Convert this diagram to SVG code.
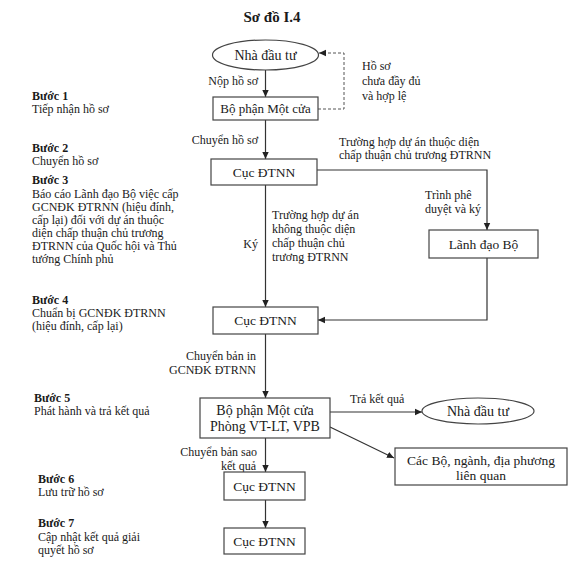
<svg xmlns="http://www.w3.org/2000/svg" width="575" height="583" viewBox="0 0 575 583">
<defs>
<marker id="ah" markerWidth="8" markerHeight="8" refX="7" refY="4" orient="auto" markerUnits="userSpaceOnUse">
<path d="M0,0.8 L7,4 L0,7.2 Z" fill="#222"/>
</marker>
<style>
text{font-family:"Liberation Serif","Times New Roman",serif;font-size:12px;fill:#1a1a1a}
.t{font-size:15px;font-weight:bold}
.b{font-weight:bold}
.m{text-anchor:middle}
.e{text-anchor:end}
.n{font-size:13.5px}
.nl{font-size:14px}
.box{fill:#fff;stroke:#444;stroke-width:1.2}
.ln{fill:none;stroke:#333;stroke-width:1.2}
.ds{fill:none;stroke:#555;stroke-width:1;stroke-dasharray:3 2}
</style>
</defs>
<rect width="575" height="583" fill="#fff"/>
<text class="t m" x="272" y="22">Sơ đồ I.4</text>

<g id="steps">
<text class="b" x="32" y="100">Bước 1</text>
<text x="32" y="113">Tiếp nhận hồ sơ</text>
<text class="b" x="32" y="152">Bước 2</text>
<text x="32" y="165">Chuyển hồ sơ</text>
<text class="b" x="32" y="184">Bước 3</text>
<text x="32" y="198">Báo cáo Lãnh đạo Bộ việc cấp</text>
<text x="32" y="211">GCNĐK ĐTRNN (hiệu đính,</text>
<text x="32" y="224">cấp lại) đối với dự án thuộc</text>
<text x="32" y="237">diện chấp thuận chủ trương</text>
<text x="32" y="250">ĐTRNN của Quốc hội và Thủ</text>
<text x="32" y="263">tướng Chính phủ</text>
<text class="b" x="32" y="304">Bước 4</text>
<text x="32" y="317">Chuẩn bị GCNĐK ĐTRNN</text>
<text x="32" y="330">(hiệu đính, cấp lại)</text>
<text class="b" x="34" y="402">Bước 5</text>
<text x="34" y="415">Phát hành và trả kết quả</text>
<text class="b" x="38" y="483">Bước 6</text>
<text x="38" y="496">Lưu trữ hồ sơ</text>
<text class="b" x="38" y="527">Bước 7</text>
<text x="38" y="541">Cập nhật kết quả giải</text>
<text x="38" y="554">quyết hồ sơ</text>
</g>

<g id="connectors">
<line class="ln" x1="265.5" y1="70" x2="265.5" y2="97" marker-end="url(#ah)"/>
<polyline class="ds" points="318,109 344,109 344,53 319,53" marker-end="url(#ah)"/>
<line class="ln" x1="265.5" y1="120" x2="265.5" y2="159" marker-end="url(#ah)"/>
<polyline class="ln" points="317,170 487,170 487,230" marker-end="url(#ah)"/>
<polyline class="ln" points="487,258 487,320 318,320" marker-end="url(#ah)"/>
<line class="ln" x1="265.5" y1="185" x2="265.5" y2="307" marker-end="url(#ah)"/>
<line class="ln" x1="265.5" y1="334" x2="265.5" y2="398" marker-end="url(#ah)"/>
<line class="ln" x1="330" y1="412" x2="422" y2="412" marker-end="url(#ah)"/>
<line class="ln" x1="330" y1="427" x2="394" y2="458" marker-end="url(#ah)"/>
<line class="ln" x1="265.5" y1="438" x2="265.5" y2="472" marker-end="url(#ah)"/>
<line class="ln" x1="265.5" y1="500" x2="265.5" y2="528" marker-end="url(#ah)"/>
<text class="e" x="258" y="85">Nộp hồ sơ</text>
<text x="362" y="70">Hồ sơ</text>
<text x="362" y="85">chưa đầy đủ</text>
<text x="362" y="100">và hợp lệ</text>
<text class="e" x="258" y="144">Chuyển hồ sơ</text>
<text x="339" y="146">Trường hợp dự án thuộc diện</text>
<text x="339" y="159">chấp thuận chủ trương ĐTRNN</text>
<text x="425" y="199">Trình phê</text>
<text x="425" y="213">duyệt và ký</text>
<text x="272" y="219">Trường hợp dự án</text>
<text x="272" y="233">không thuộc diện</text>
<text x="272" y="247">chấp thuận chủ</text>
<text x="272" y="261">trương ĐTRNN</text>
<text class="e" x="258" y="248">Ký</text>
<text class="e" x="256" y="360">Chuyển bản in</text>
<text class="e" x="256" y="374">GCNĐK ĐTRNN</text>
<text x="350" y="403">Trả kết quả</text>
<text class="e" x="257" y="456">Chuyển bản sao</text>
<text class="e" x="256" y="470">kết quả</text>
</g>

<g id="n-nhadautu1">
<ellipse class="box" cx="265.5" cy="55" rx="53" ry="15"/>
<text class="m nl" x="265.5" y="60">Nhà đầu tư</text>
</g>
<g id="n-motcua1">
<rect class="box" x="213" y="97" width="105" height="23"/>
<text class="m" style="font-size:13px" x="265.5" y="113">Bộ phận Một  cửa</text>
</g>
<g id="n-cuc1">
<rect class="box" x="211" y="159" width="106" height="26"/>
<text class="m n" x="264" y="177">Cục ĐTNN</text>
</g>
<g id="n-lanhdao">
<rect class="box" x="429" y="230" width="109" height="28"/>
<text class="m n" x="483.5" y="249">Lãnh đạo Bộ</text>
</g>
<g id="n-cuc2">
<rect class="box" x="213" y="307" width="105" height="27"/>
<text class="m n" x="265.5" y="325">Cục ĐTNN</text>
</g>
<g id="n-motcua2">
<rect class="box" x="200" y="398" width="130" height="40"/>
<text class="m nl" x="265" y="415">Bộ phận Một cửa</text>
<text class="m nl" x="265" y="431">Phòng VT-LT, VPB</text>
</g>
<g id="n-nhadautu2">
<ellipse class="box" cx="478" cy="411" rx="56" ry="13"/>
<text class="m nl" x="478" y="416">Nhà đầu tư</text>
</g>
<g id="n-cacbo">
<rect class="box" x="395" y="448" width="172" height="37"/>
<text class="m n" x="481" y="465">Các Bộ, ngành, địa phương</text>
<text class="m n" x="481" y="480">liên quan</text>
</g>
<g id="n-cuc3">
<rect class="box" x="224" y="472" width="81" height="28"/>
<text class="m n" x="264.5" y="491">Cục ĐTNN</text>
</g>
<g id="n-cuc4">
<rect class="box" x="224" y="528" width="81" height="26"/>
<text class="m n" x="264.5" y="546">Cục ĐTNN</text>
</g>
</svg>
